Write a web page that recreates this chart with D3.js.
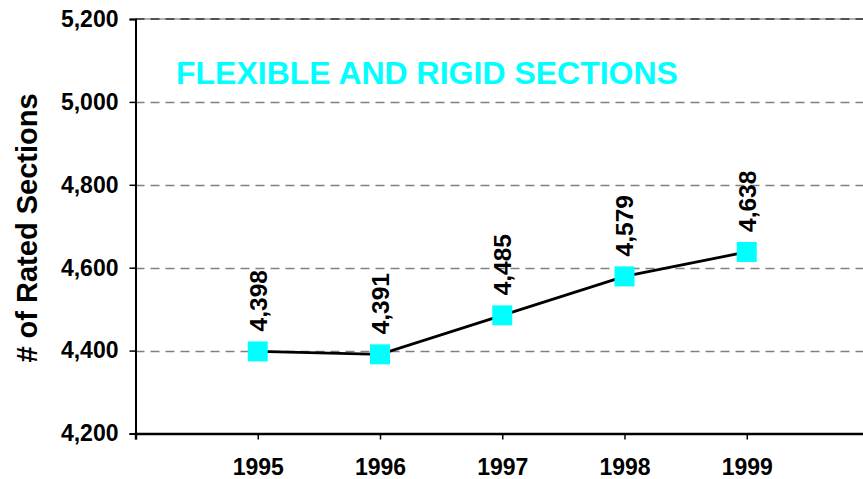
<!DOCTYPE html>
<html><head><meta charset="utf-8">
<script src="https://cdn.jsdelivr.net/npm/d3@7/dist/d3.min.js"></script>
<style>body{margin:0;background:#fff}svg{display:block;font-family:Arial,"Liberation Sans",sans-serif}</style>
</head><body>
<script>
const years = [1995, 1996, 1997, 1998, 1999];
const values = [4398, 4391, 4485, 4579, 4638];
const yTicks = [4200, 4400, 4600, 4800, 5000, 5200];
const title = "FLEXIBLE AND RIGID SECTIONS";
const yLabel = "# of Rated Sections";

const W = 863, H = 479;
const svg = d3.select("body").append("svg").attr("width", W).attr("height", H);
const x = d3.scaleLinear().domain([1994, 2000]).range([135.5, 869]);
const y = d3.scaleLinear().domain([4200, 5200]).range([433.5, 19]);
const fmt = d3.format(",");

// gridlines
svg.append("g").selectAll("line").data(yTicks.filter(t => t > 4200 && t < 5200)).join("line")
  .attr("x1", x(1994)).attr("x2", W).attr("y1", d => Math.round(y(d)) + 0.5).attr("y2", d => Math.round(y(d)) + 0.5)
  .attr("stroke", "#808080").attr("stroke-width", 1.5).attr("stroke-dasharray", "9,6");
// top border
svg.append("line").attr("x1", x(1994)).attr("x2", W).attr("y1", y(5200)).attr("y2", y(5200))
  .attr("stroke", "#999").attr("stroke-width", 1.5);
svg.append("line").attr("x1", x(1994)).attr("x2", W).attr("y1", y(5200)).attr("y2", y(5200))
  .attr("stroke", "#333").attr("stroke-width", 1.5).attr("stroke-dasharray", "9,6");

// y axis
const yAxis = svg.append("g").attr("transform", `translate(${x(1994)},0)`)
  .call(d3.axisLeft(y).tickValues(yTicks).tickFormat(fmt).tickSize(6).tickPadding(11));
yAxis.select(".domain").attr("stroke", "#000").attr("stroke-width", 2);
yAxis.selectAll(".tick line").attr("stroke", "#000").attr("stroke-width", 1.5);
yAxis.selectAll(".tick text").attr("font-size", 23).attr("font-weight", "bold").attr("fill", "#000")
  .attr("font-family", "Arial, 'Liberation Sans', sans-serif");

// x axis
const xAxis = svg.append("g").attr("transform", `translate(0,${y(4200)})`)
  .call(d3.axisBottom(x).tickValues([1994, ...years, 2000]).tickFormat(d => years.includes(d) ? d : "").tickSize(6).tickPadding(19));
xAxis.select(".domain").attr("stroke", "#000").attr("stroke-width", 2.5);
xAxis.selectAll(".tick line").attr("stroke", "#000").attr("stroke-width", 1.5);
xAxis.selectAll(".tick text").attr("font-size", 23).attr("font-weight", "bold").attr("fill", "#000")
  .attr("font-family", "Arial, 'Liberation Sans', sans-serif");

// line
const pts = years.map((yr, i) => [x(yr), y(values[i])]);
svg.append("path").attr("d", d3.line()(pts)).attr("fill", "none").attr("stroke", "#000").attr("stroke-width", 2.8);

// markers
svg.append("g").selectAll("rect").data(years).join("rect")
  .attr("x", (d) => x(d) - 10).attr("y", (d, i) => y(values[i]) - 10)
  .attr("width", 20).attr("height", 20).attr("fill", "#00FFFF");

// data labels
svg.append("g").selectAll("text").data(years).join("text")
  .attr("transform", (d, i) => `translate(${x(d)},${y(values[i]) - 20}) rotate(-90)`)
  .attr("dy", "0.36em").attr("text-anchor", "start")
  .attr("font-size", 24.5).attr("font-weight", "bold").attr("fill", "#000")
  .text((d, i) => fmt(values[i]));

// title
svg.append("text").attr("x", 176).attr("y", 84).attr("font-size", 32).attr("font-weight", "bold")
  .attr("fill", "#00FFFF").text(title);

// y label
svg.append("text").attr("transform", `translate(27,228) rotate(-90)`).attr("dy", "0.36em")
  .attr("text-anchor", "middle").attr("font-size", 29).attr("font-weight", "bold").attr("fill", "#000")
  .text(yLabel);
</script>
</body></html>
